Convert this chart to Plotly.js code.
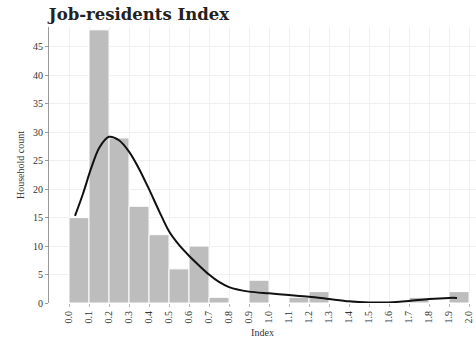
<!DOCTYPE html>
<html><head><meta charset="utf-8">
<script src="https://cdn.plot.ly/plotly-3.0.1.min.js"></script>
<style>html,body{margin:0;padding:0;background:#fff}#c{width:476px;height:341px}</style>
</head><body><div id="c"></div>
<script>
const binStart = [0.0,0.1,0.2,0.3,0.4,0.5,0.6,0.7,0.8,0.9,1.0,1.1,1.2,1.3,1.4,1.5,1.6,1.7,1.8,1.9];
const counts   = [15,48,29,17,12,6,10,1,0,4,0,1,2,0,0,0,0,1,0,2];
const kdeX = [0.03,0.07,0.11,0.15,0.2,0.25,0.3,0.35,0.4,0.45,0.5,0.55,0.6,0.65,0.7,0.75,0.8,0.9,1.0,1.1,1.2,1.3,1.4,1.5,1.6,1.7,1.8,1.9,1.94];
const kdeY = [15.3,19.2,23.6,27.2,29.2,28.6,26.6,23.6,20.0,16.2,12.6,10.2,8.3,6.6,5.0,3.7,2.8,2.0,1.7,1.4,1.1,0.7,0.3,0.1,0.1,0.35,0.7,0.9,0.9];
const tickVals = [0.0,0.1,0.2,0.3,0.4,0.5,0.6,0.7,0.8,0.9,1.0,1.1,1.2,1.3,1.4,1.5,1.6,1.7,1.8,1.9,2.0];
const tickText = tickVals.map(v => v.toFixed(1));
const F = "Liberation Serif, DejaVu Serif, serif";

Plotly.newPlot('c', [
  {type:'bar', x:binStart, y:counts, offset:0, width:0.1,
   marker:{color:'#bdbdbd', line:{color:'#ffffff', width:1}}, hoverinfo:'skip'},
  {type:'scatter', mode:'lines', x:kdeX, y:kdeY,
   line:{color:'#111111', width:2, shape:'spline', smoothing:0.8}}
], {
  width:476, height:341,
  margin:{l:49, r:0, t:27, b:38},
  paper_bgcolor:'#fff', plot_bgcolor:'#fff',
  showlegend:false, bargap:0,
  title:{text:'<b>Job-residents Index</b>', xref:'container', x:0.292, xanchor:'center',
         yref:'container', y:0.975, yanchor:'top',
         font:{family:'DejaVu Serif, serif', size:16.5, color:'#222'}},
  xaxis:{range:[-0.1,2.035], tickmode:'array', tickvals:tickVals, ticktext:tickText,
         tickangle:-90, tickfont:{family:F, size:10, color:'#333'},
         showgrid:true, gridcolor:'#f0f0f0', gridwidth:1, zeroline:false,
         showline:false, ticks:'outside', ticklen:3, tickcolor:'#bbb',
         title:{text:'Index', font:{family:F, size:10, color:'#333'}, standoff:6}},
  yaxis:{range:[0,48.5], tickvals:[0,5,10,15,20,25,30,35,40,45],
         tickfont:{family:F, size:10, color:'#333'},
         showgrid:true, gridcolor:'#f0f0f0', gridwidth:1, zeroline:false,
         showline:true, linecolor:'#999', linewidth:1, ticks:'outside', ticklen:3, tickcolor:'#999',
         title:{text:'Household count', font:{family:F, size:10, color:'#333'}, standoff:6}}
}, {displayModeBar:false, staticPlot:true});
</script></body></html>
